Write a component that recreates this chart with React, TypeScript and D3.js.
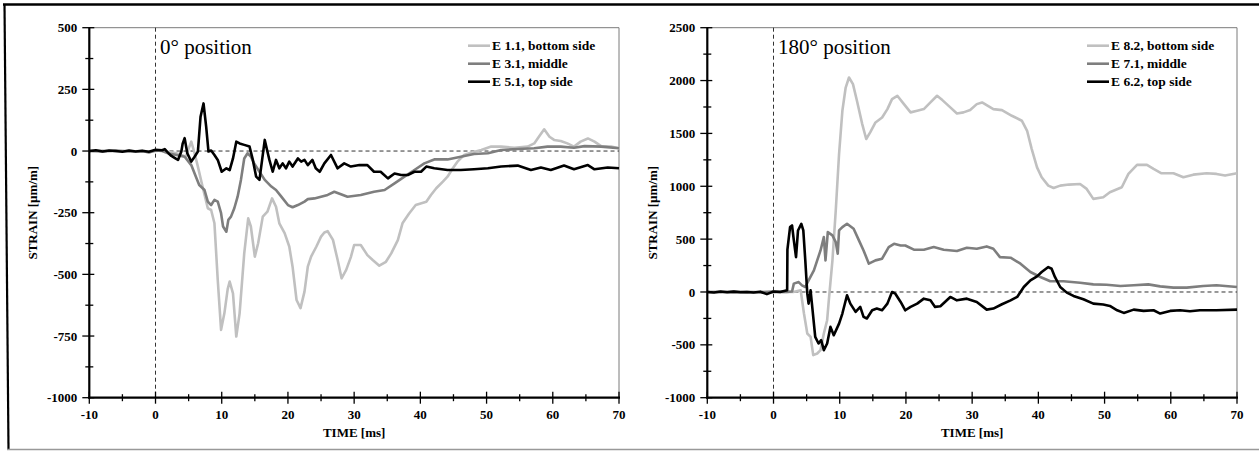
import React from "react";
import * as d3 from "d3";

type Pt = [number, number];

// ---------- tick labels ----------
const xTicks = [-10, 0, 10, 20, 30, 40, 50, 60, 70];
const xMinor = [-5, 5, 15, 25, 35, 45, 55, 65];
const leftYTicks = [-1000, -750, -500, -250, 0, 250, 500];
const leftYMinor = [-875, -625, -375, -125, 125, 375];
const rightYTicks = [-1000, -500, 0, 500, 1000, 1500, 2000, 2500];
const rightYMinor = [-750, -250, 250, 750, 1250, 1750, 2250];

const leftLabels = ["E 1.1, bottom side", "E 3.1, middle", "E 5.1, top side"];
const rightLabels = ["E 8.2, bottom side", "E 7.1, middle", "E 6.2, top side"];
const seriesColors = ["#c0c0c0", "#7e7e7e", "#000000"];

// ---------- left chart (0° position) ----------
const e11: Pt[] = [[-10,0],[-8,2],[-6,-2],[-4,1],[-2,-3],[0,0],[1,2],[2,-4],[3,-8],[3.9,-16],[4.6,-23],[5.0,10],[5.4,38],[5.9,-9],[6.4,-63],[7.1,-144],[7.9,-232],[8.4,-239],[8.9,-293],[9.4,-523],[9.9,-725],[10.4,-658],[10.9,-560],[11.2,-529],[11.7,-577],[12.2,-752],[12.7,-658],[13.4,-415],[14.0,-273],[14.4,-306],[15.0,-428],[15.5,-374],[16.2,-266],[16.9,-246],[17.6,-192],[18.2,-226],[18.7,-293],[19.5,-333],[20.2,-387],[20.7,-469],[21.3,-604],[21.9,-637],[22.5,-570],[23.0,-469],[23.5,-428],[24.3,-387],[25.0,-347],[25.5,-330],[26.0,-325],[26.8,-360],[27.5,-441],[28.1,-516],[28.8,-482],[29.5,-430],[30.0,-381],[31.0,-381],[32.0,-422],[32.8,-442],[33.8,-465],[34.8,-449],[35.6,-415],[36.6,-361],[37.3,-293],[38.3,-253],[39.3,-219],[40.9,-206],[41.6,-178],[42.4,-151],[43.4,-124],[44.1,-104],[44.9,-70],[45.6,-43],[46.6,-16],[47.6,-7],[49.2,4],[50.7,18],[52.2,18],[54.2,13],[56.2,18],[57.2,31],[57.9,58],[58.7,88],[59.5,58],[60.2,45],[61.2,41],[62.2,31],[63.2,18],[64.2,38],[65.3,51],[66.3,38],[67.3,20],[68.8,18],[70,11]];

const e31: Pt[] = [[-10,0],[-8,-2],[-6,2],[-4,-2],[-2,0],[-1,-6],[0,2],[1,0],[2,-10],[3,-15],[4.4,-23],[5.4,-57],[6.1,-104],[6.6,-138],[7.4,-158],[7.9,-205],[8.4,-219],[8.9,-198],[9.4,-205],[9.9,-252],[10.2,-306],[10.7,-327],[11.0,-279],[11.4,-266],[11.9,-232],[12.4,-185],[12.9,-117],[13.4,-30],[13.9,-9],[14.4,-23],[14.9,-50],[15.7,-84],[16.5,-117],[17.5,-144],[18.2,-158],[19.0,-185],[20.0,-219],[20.7,-228],[21.5,-219],[22.5,-205],[23.0,-195],[24.0,-192],[25.0,-185],[26.0,-178],[27.0,-165],[28.0,-175],[29.0,-185],[31.0,-178],[33.0,-165],[34.6,-158],[36.1,-131],[37.6,-104],[39.1,-77],[40.6,-50],[42.1,-34],[44.1,-34],[46.1,-23],[48.1,-12],[50.2,-9],[52.2,4],[54.7,8],[57.2,11],[59.2,18],[61.2,18],[63.2,13],[64.8,20],[67.3,18],[70,11]];

const e51: Pt[] = [[-10,0],[-9,3],[-8,-2],[-7,2],[-6,0],[-5,-3],[-4,2],[-3,-2],[-2,1],[-1,-3],[0,5],[1,3],[1.4,8],[2,-10],[2.4,-20],[3.0,-30],[3.4,-36],[3.9,-2],[4.1,30],[4.4,52],[4.8,-9],[5.4,-43],[5.9,-23],[6.4,-2],[6.8,139],[7.25,193],[7.65,99],[8.0,-2],[8.4,2],[8.9,-16],[9.4,-36],[10.0,-84],[10.7,-70],[11.2,-77],[11.7,-30],[12.2,38],[12.7,31],[13.4,25],[14.2,18],[14.7,-36],[15.2,-104],[15.7,-117],[16.1,-36],[16.5,45],[16.9,-2],[17.2,-36],[17.7,-84],[18.2,-36],[18.7,-70],[19.2,-50],[19.7,-70],[20.2,-43],[20.7,-63],[21.5,-30],[22,-43],[22.5,-36],[23,-57],[23.7,-36],[24.2,-70],[24.8,-84],[25.5,-50],[26.5,-16],[27.5,-70],[28.5,-50],[29.5,-63],[30.8,-57],[32,-57],[33,-84],[34,-84],[35.1,-111],[36.1,-91],[37.1,-97],[38.1,-97],[39.1,-84],[40.1,-84],[40.9,-63],[42.1,-70],[44.1,-77],[46.1,-77],[48.1,-74],[50.2,-70],[52.2,-63],[54.7,-59],[56.7,-77],[58.2,-67],[59.7,-77],[61.7,-59],[63.2,-74],[65.3,-57],[66.3,-74],[68.3,-67],[70,-70]];

// ---------- right chart (180° position) ----------
const e82: Pt[] = [[-10,0],[-8,5],[-6,-5],[-4,3],[-2,-5],[0,0],[2,3],[3,0],[4.1,16],[4.6,-204],[5.1,-393],[5.6,-425],[6.0,-597],[6.6,-582],[7.1,-550],[7.6,-393],[8.1,-267],[8.35,-79],[8.9,299],[9.4,771],[9.9,1305],[10.4,1714],[10.9,1934],[11.4,2029],[12.0,1966],[12.6,1809],[13.4,1588],[14.0,1447],[14.6,1510],[15.4,1604],[16.4,1651],[17.2,1730],[17.9,1824],[18.7,1856],[19.7,1777],[20.7,1699],[21.7,1714],[22.7,1730],[23.7,1793],[24.7,1856],[25.5,1815],[26.7,1746],[27.7,1689],[28.7,1699],[29.7,1721],[30.7,1777],[31.5,1793],[33.2,1730],[34.5,1720],[36,1667],[37.5,1620],[38.3,1525],[39,1352],[39.8,1179],[40.5,1085],[41.5,1006],[42.3,984],[43.3,1006],[44.6,1016],[46.3,1022],[47.3,975],[48.3,881],[49.8,896],[50.8,944],[52.6,991],[53.6,1117],[54.9,1202],[56.4,1202],[57.4,1164],[58.6,1123],[60.4,1123],[61.9,1085],[63.4,1110],[65.4,1123],[66.9,1117],[68.2,1101],[70,1123]];

const e71: Pt[] = [[-10,0],[-8,-3],[-6,3],[-4,-3],[-2,0],[0,3],[2,0],[2.8,5],[3.07,79],[3.8,94],[4.3,63],[4.8,47],[5.3,110],[6.1,204],[6.6,299],[7.1,393],[7.6,519],[7.85,299],[8.2,566],[8.9,535],[9.4,472],[9.7,362],[9.9,582],[10.4,614],[11.1,645],[12.1,598],[12.9,488],[13.6,393],[14.4,268],[15.4,299],[16.4,315],[17.4,425],[18.2,456],[19.2,440],[19.9,440],[21.2,400],[22.7,400],[24.2,425],[25.7,400],[27.7,387],[29.2,418],[30.7,409],[32.2,431],[33.2,409],[34.2,330],[35.8,324],[37.3,268],[38.8,189],[40.3,142],[41.8,101],[43.8,101],[46.3,88],[48.3,72],[50.3,69],[52.4,57],[54.4,63],[56.6,72],[58.4,53],[60.4,41],[62.4,41],[64.9,57],[66.9,63],[70,47]];

const e62: Pt[] = [[-10,0],[-9,-5],[-8,5],[-7,-3],[-6,3],[-5,-2],[-4,0],[-3,-5],[-2,3],[-1,-20],[0,5],[1,0],[2.06,16],[2.1,400],[2.5,614],[2.8,629],[3.07,488],[3.4,330],[3.7,582],[4.2,645],[4.5,582],[4.8,299],[5.1,-16],[5.3,-110],[5.6,16],[5.8,-110],[6.3,-425],[6.8,-487],[7.2,-456],[7.6,-550],[8.1,-487],[8.6,-330],[9.1,-409],[9.9,-299],[10.4,-204],[11.1,-31],[11.6,-110],[12.4,-188],[13.1,-141],[13.6,-236],[14.1,-251],[14.9,-173],[15.6,-157],[16.4,-173],[17.2,-110],[17.9,0],[18.4,-16],[19.2,-94],[19.9,-173],[20.7,-141],[21.7,-110],[22.7,-63],[23.7,-79],[24.4,-141],[25.2,-135],[26.7,-47],[27.7,-79],[29.2,-63],[30.7,-94],[32.2,-167],[33.2,-157],[34.5,-116],[35.8,-79],[36.8,-47],[37.8,47],[38.8,110],[39.8,148],[40.5,189],[41.5,236],[42.0,220],[42.5,142],[43.3,47],[44.3,-6],[45.3,-37],[46.8,-69],[48.3,-110],[49.8,-119],[50.8,-132],[51.9,-173],[52.9,-198],[54.4,-167],[55.9,-179],[57.4,-173],[58.4,-204],[59.9,-179],[61.4,-173],[62.9,-182],[64.4,-173],[66.9,-173],[70,-167]];

const FONT = "'Liberation Serif', 'Times New Roman', Times, serif";

interface ChartProps {
  left: number;
  right: number;
  top: number;
  bottom: number;
  yDomain: [number, number];
  yTicks: number[];
  yMinor: number[];
  series: Pt[][];
  labels: string[];
  title: string;
  yTitleX: number;
  legendX: number;
}

function Chart(p: ChartProps) {
  const x = d3.scaleLinear().domain([-10, 70]).range([p.left, p.right]);
  const y = d3.scaleLinear().domain(p.yDomain).range([p.bottom, p.top]);
  const line = d3
    .line<Pt>()
    .x((d) => x(d[0]))
    .y((d) => y(d[1]))
    .curve(d3.curveLinear);
  const midY = (p.top + p.bottom) / 2;
  return (
    <g fontFamily={FONT}>
      <line x1={p.left} x2={p.right} y1={p.top} y2={p.top} stroke="#7a7a7a" strokeWidth={1} />
      <line x1={p.right} x2={p.right} y1={p.top} y2={p.bottom} stroke="#7a7a7a" strokeWidth={1} />
      <line x1={x(0)} x2={x(0)} y1={p.top} y2={p.bottom} stroke="#333" strokeWidth={1} strokeDasharray="4,3" />
      <line x1={x(0)} x2={p.right} y1={y(0)} y2={y(0)} stroke="#333" strokeWidth={1} strokeDasharray="4,3" />
      {p.series.map((s, i) => (
        <path key={i} d={line(s) || ""} fill="none" stroke={seriesColors[i]} strokeWidth={2.6} strokeLinejoin="round" />
      ))}
      <line x1={p.left} x2={p.left} y1={p.top} y2={p.bottom + 1} stroke="#000" strokeWidth={2.2} />
      <line x1={p.left - 1} x2={p.right + 1} y1={p.bottom} y2={p.bottom} stroke="#000" strokeWidth={2.2} />
      {p.yTicks.map((t) => (
        <g key={"yt" + t}>
          <line x1={p.left - 7} x2={p.left + 5} y1={y(t)} y2={y(t)} stroke="#000" strokeWidth={1.3} />
          <text x={p.left - 12} y={y(t)} dy="0.35em" textAnchor="end" fontSize={13} fontWeight="bold">
            {t}
          </text>
        </g>
      ))}
      {p.yMinor.map((t) => (
        <line key={"ym" + t} x1={p.left - 4} x2={p.left + 4} y1={y(t)} y2={y(t)} stroke="#000" strokeWidth={1.3} />
      ))}
      {xTicks.map((t) => (
        <g key={"xt" + t}>
          <line x1={x(t)} x2={x(t)} y1={p.bottom - 6} y2={p.bottom + 6} stroke="#000" strokeWidth={1.3} />
          <text x={x(t)} y={p.bottom + 21.5} textAnchor="middle" fontSize={13} fontWeight="bold">
            {t}
          </text>
        </g>
      ))}
      {xMinor.map((t) => (
        <line key={"xm" + t} x1={x(t)} x2={x(t)} y1={p.bottom - 3.5} y2={p.bottom + 3.5} stroke="#000" strokeWidth={1.3} />
      ))}
      <text x={(p.left + p.right) / 2} y={p.bottom + 39.5} textAnchor="middle" fontSize={13} fontWeight="bold">
        TIME [ms]
      </text>
      <text
        transform={`translate(${p.yTitleX},${midY}) rotate(-90)`}
        textAnchor="middle"
        dy="0.35em"
        fontSize={13}
        fontWeight="bold"
      >
        STRAIN [µm/m]
      </text>
      <text x={x(0) + 4.5} y={p.top + 26.5} fontSize={21}>
        {p.title}
      </text>
      {p.labels.map((lab, i) => {
        const ly = p.top + 18 + i * 18;
        return (
          <g key={lab}>
            <line x1={p.legendX} x2={p.legendX + 22} y1={ly} y2={ly} stroke={seriesColors[i]} strokeWidth={2.6} />
            <text x={p.legendX + 24} y={ly} dy="0.34em" fontSize={13.5} fontWeight="bold">
              {lab}
            </text>
          </g>
        );
      })}
    </g>
  );
}

export default function App() {
  return (
    <svg
      width={1259}
      height={451}
      style={{ position: "absolute", left: 0, top: 0, background: "#fff" }}
    >
      <rect x={0} y={0} width={1259} height={451} fill="#fff" />
      <line x1={3} x2={1259} y1={4.5} y2={4.5} stroke="#000" strokeWidth={2.5} />
      <line x1={4.5} x2={8.5} y1={4} y2={449} stroke="#000" strokeWidth={2.2} />
      <line x1={7} x2={1259} y1={449.5} y2={449.5} stroke="#999" strokeWidth={1.5} />
      <Chart
        left={89.3}
        right={619}
        top={27.7}
        bottom={397.7}
        yDomain={[-1000, 500]}
        yTicks={leftYTicks}
        yMinor={leftYMinor}
        series={[e11, e31, e51]}
        labels={leftLabels}
        title="0° position"
        yTitleX={32}
        legendX={468}
      />
      <Chart
        left={707.3}
        right={1237}
        top={27.7}
        bottom={397.7}
        yDomain={[-1000, 2500]}
        yTicks={rightYTicks}
        yMinor={rightYMinor}
        series={[e82, e71, e62]}
        labels={rightLabels}
        title="180° position"
        yTitleX={652}
        legendX={1087}
      />
    </svg>
  );
}
